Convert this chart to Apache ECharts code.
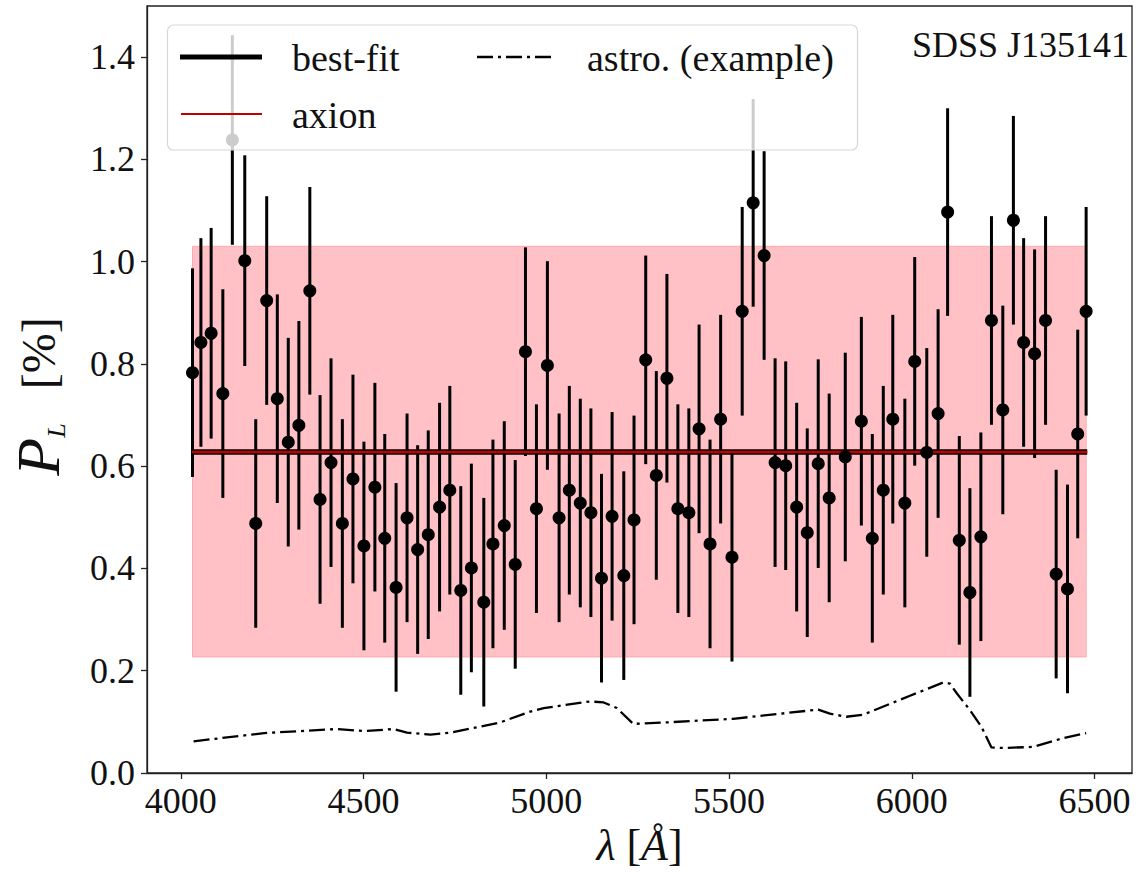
<!DOCTYPE html>
<html><head><meta charset="utf-8">
<script src="https://cdn.jsdelivr.net/npm/echarts@6/dist/echarts.min.js"></script>
<style>html,body{margin:0;padding:0;background:#fff}#c{width:1138px;height:875px}</style>
</head><body><div id="c"></div>
<script>
// ---- data ----
const wavelengths = [4032,4055,4083,4115,4141,4175,4205,4235,4264,4294,4323,4353,4381,4411,4442,4471,4501,4531,4558,4589,4619,4648,4677,4708,4736,4766,4795,4829,4854,4885,4915,4943,4973,5003,5035,5063,5093,5122,5151,5180,5212,5240,5272,5301,5330,5360,5390,5418,5448,5477,5508,5536,5566,5596,5626,5655,5685,5714,5744,5774,5818,5862,5892,5922,5948,5981,6008,6041,6072,6098,6130,6159,6189,6218,6249,6278,6306,6336,6366,6395,6426,6454,6477];
const polarization = [0.783,0.842,0.860,0.742,1.238,1.002,0.488,0.924,0.732,0.647,0.680,0.943,0.535,0.607,0.488,0.575,0.444,0.559,0.459,0.363,0.499,0.437,0.466,0.520,0.553,0.357,0.401,0.334,0.448,0.484,0.408,0.824,0.517,0.797,0.499,0.553,0.528,0.509,0.381,0.502,0.386,0.495,0.808,0.582,0.772,0.517,0.509,0.673,0.448,0.692,0.422,0.903,1.115,1.012,0.607,0.601,0.520,0.470,0.605,0.538,0.618,0.688,0.459,0.553,0.692,0.528,0.805,0.627,0.703,1.097,0.455,0.353,0.462,0.885,0.710,1.081,0.842,0.820,0.885,0.389,0.360,0.663,0.903];
const errors = [0.204,0.204,0.206,0.204,0.205,0.206,0.204,0.204,0.204,0.204,0.204,0.203,0.204,0.204,0.204,0.204,0.204,0.204,0.204,0.204,0.204,0.204,0.204,0.204,0.204,0.204,0.204,0.204,0.204,0.204,0.204,0.204,0.204,0.204,0.204,0.204,0.204,0.204,0.204,0.204,0.204,0.204,0.204,0.204,0.204,0.204,0.204,0.204,0.204,0.204,0.204,0.204,0.203,0.204,0.204,0.204,0.204,0.204,0.204,0.204,0.204,0.204,0.204,0.204,0.204,0.204,0.204,0.204,0.204,0.203,0.204,0.204,0.204,0.204,0.204,0.204,0.204,0.204,0.204,0.204,0.204,0.204,0.204];
const astroX = [4035,4228,4428,4501,4583,4619,4683,4738,4820,4874,4956,4993,5120,5157,5193,5238,5330,5511,5744,5776,5821,5867,5967,5995,6086,6104,6123,6158,6190,6218,6250,6332,6413,6477];
const astroY = [0.062,0.078,0.086,0.082,0.086,0.079,0.075,0.079,0.091,0.099,0.120,0.127,0.140,0.138,0.127,0.096,0.099,0.106,0.124,0.116,0.110,0.114,0.143,0.151,0.177,0.175,0.156,0.124,0.091,0.050,0.049,0.051,0.068,0.078];
const bestFitX = [4030, 6480];
const bestFitY = [0.628, 0.628];
const bandX = [4032, 6477];
const bandY = [0.227, 1.030];
const xTicks = [4000, 4500, 5000, 5500, 6000, 6500];
const yTicks = [0.0, 0.2, 0.4, 0.6, 0.8, 1.0, 1.2, 1.4];
const legendLabels = ['best-fit', 'astro. (example)', 'axion'];
const sourceName = 'SDSS J135141';

// ---- chart ----
const FONT = '"Liberation Serif", "DejaVu Serif", serif';
const chart = echarts.init(document.getElementById('c'), null, {renderer: 'svg'});

const errData = wavelengths.map((w, i) => [w, polarization[i] - errors[i], polarization[i] + errors[i]]);
const ptData = wavelengths.map((w, i) => [w, polarization[i]]);
const astroData = astroX.map((x, i) => [x, astroY[i]]);
const fitData = bestFitX.map((x, i) => [x, bestFitY[i]]);

const option = {
  animation: false,
  backgroundColor: '#fff',
  grid: {left: 147, right: 6, top: 6, bottom: 102, outerBoundsMode: 'none', containLabel: false,
    show: true, borderColor: '#222', borderWidth: 1.3, backgroundColor: 'transparent'},
  xAxis: {
    type: 'value', min: 3907.5, max: 6602.5,
    splitLine: {show: false},
    axisLine: {show: true, lineStyle: {color: '#222', width: 1.3}},
    axisTick: {show: true, inside: false, length: 6, lineStyle: {color: '#222', width: 1.3}, customValues: xTicks},
    axisLabel: {customValues: xTicks, formatter: v => String(v), fontFamily: FONT, fontSize: 36, color: '#111', margin: 10},
    name: '{l|λ }{b|[}{l|Å}{b|]}', nameLocation: 'middle', nameGap: 46,
    nameTextStyle: {fontFamily: FONT, color: '#111', rich: {
      l: {fontFamily: FONT, fontStyle: 'italic', fontSize: 44, color: '#111'},
      b: {fontFamily: FONT, fontSize: 44, color: '#111'}
    }}
  },
  yAxis: {
    type: 'value', min: 0, max: 1.5,
    splitLine: {show: false},
    axisLine: {show: true, lineStyle: {color: '#222', width: 1.3}},
    axisTick: {show: true, inside: false, length: 6, lineStyle: {color: '#222', width: 1.3}, customValues: yTicks},
    axisLabel: {customValues: yTicks, formatter: v => v.toFixed(1), fontFamily: FONT, fontSize: 36, color: '#111', margin: 12},
    name: '{p|P}{s|L}{b|[%]}', nameLocation: 'middle', nameGap: 78, nameRotate: 90,
    nameTextStyle: {fontFamily: FONT, color: '#111', padding: [0, 0, 0, -14], rich: {
      p: {fontFamily: FONT, fontStyle: 'italic', fontSize: 62, color: '#111', verticalAlign: 'middle'},
      s: {fontFamily: FONT, fontStyle: 'italic', fontSize: 26, color: '#111', verticalAlign: 'bottom', padding: [22, 34, 0, 0]},
      b: {fontFamily: FONT, fontSize: 48, color: '#111', verticalAlign: 'middle'}
    }}
  },
  series: [
    {
      type: 'custom', name: 'band', z: 1, silent: true,
      data: [[bandX[0], bandY[0], bandX[1], bandY[1]]],
      encode: {x: [0, 2], y: [1, 3]},
      renderItem: (params, api) => {
        const a = api.coord([api.value(0), api.value(1)]);
        const b = api.coord([api.value(2), api.value(3)]);
        return {type: 'rect', shape: {x: a[0], y: b[1], width: b[0] - a[0], height: a[1] - b[1]},
          style: {fill: '#ffc1c5', stroke: '#ffa9ae', lineWidth: 1}};
      }
    },
    {
      type: 'line', name: legendLabels[1], data: astroData, showSymbol: false, symbol: 'none', z: 2,
      lineStyle: {color: '#000', width: 2.3, type: [16, 5, 3, 5]}
    },
    {
      type: 'custom', name: 'errorbars', z: 4, silent: true,
      data: errData, encode: {x: 0, y: [1, 2]},
      renderItem: (params, api) => {
        const a = api.coord([api.value(0), api.value(1)]);
        const b = api.coord([api.value(0), api.value(2)]);
        return {type: 'line', shape: {x1: a[0], y1: a[1], x2: b[0], y2: b[1]}, style: {stroke: '#000', lineWidth: 3}};
      }
    },
    {
      type: 'line', name: legendLabels[0], data: fitData, showSymbol: false, symbol: 'none', z: 5,
      lineStyle: {color: '#000', width: 5.5}
    },
    {
      type: 'line', name: legendLabels[2], data: fitData, showSymbol: false, symbol: 'none', z: 6,
      lineStyle: {color: '#c00000', width: 2.5}
    },
    {
      type: 'scatter', name: 'data', data: ptData, symbol: 'circle', symbolSize: 13, z: 7,
      itemStyle: {color: '#000', opacity: 1}
    }
  ],
  graphic: [
    {type: 'rect', z: 100, shape: {x: 167.5, y: 25, width: 690, height: 125, r: 6},
      style: {fill: 'rgba(255,255,255,0.8)', stroke: '#d8d8d8', lineWidth: 1.2}},
    {type: 'line', z: 101, shape: {x1: 180, y1: 57, x2: 262, y2: 57}, style: {stroke: '#000', lineWidth: 5}},
    {type: 'text', z: 101, x: 292, y: 58, style: {text: legendLabels[0], font: '38px ' + FONT, fill: '#111', textVerticalAlign: 'middle'}},
    {type: 'line', z: 101, shape: {x1: 477, y1: 57, x2: 554, y2: 57}, style: {stroke: '#000', lineWidth: 2.3, lineDash: [16, 5, 3, 5]}},
    {type: 'text', z: 101, x: 587, y: 58, style: {text: legendLabels[1], font: '38px ' + FONT, fill: '#111', textVerticalAlign: 'middle'}},
    {type: 'line', z: 101, shape: {x1: 181, y1: 114, x2: 262, y2: 114}, style: {stroke: '#c00000', lineWidth: 2}},
    {type: 'text', z: 101, x: 292, y: 115, style: {text: legendLabels[2], font: '38px ' + FONT, fill: '#111', textVerticalAlign: 'middle'}},
    {type: 'text', z: 101, x: 912, y: 45, style: {text: sourceName, font: '36px ' + FONT, fill: '#111', textVerticalAlign: 'middle'}}
  ]
};
chart.setOption(option);
</script></body></html>
